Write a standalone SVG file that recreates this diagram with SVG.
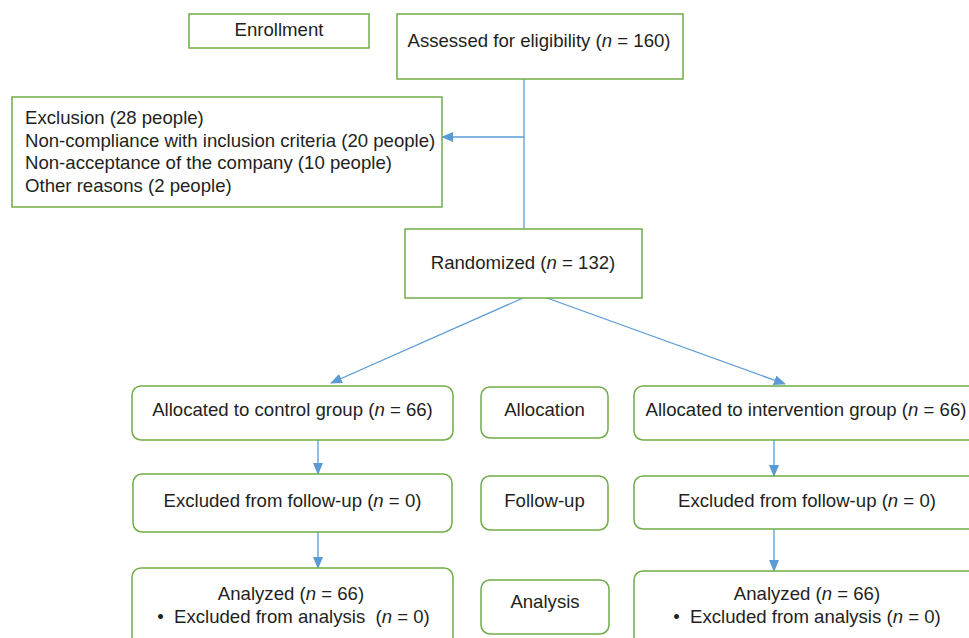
<svg xmlns="http://www.w3.org/2000/svg" width="969" height="638" viewBox="0 0 969 638">
<defs>
<style>
.box{fill:#ffffff;stroke:#70ad47;stroke-width:1.5}
.t{font-family:"Liberation Sans",Arial,sans-serif;font-size:18.6px;fill:#231f20}
.c{text-anchor:middle}
.ln{stroke:#5b9bd5;stroke-width:1.3;fill:none}
</style>
<marker id="ah" markerWidth="12" markerHeight="10" refX="11" refY="5" orient="auto" markerUnits="userSpaceOnUse">
<path d="M0,0 L12,5 L0,10 Z" fill="#5b9bd5"/>
</marker>
</defs>
<rect width="969" height="638" fill="#ffffff"/>
<g id="connectors">
<line class="ln" x1="524" y1="79" x2="524" y2="229"/>
<line class="ln" x1="524" y1="137" x2="442" y2="137" marker-end="url(#ah)"/>
<line class="ln" x1="523" y1="298" x2="331" y2="383" marker-end="url(#ah)"/>
<line class="ln" x1="547" y1="298" x2="785" y2="384" marker-end="url(#ah)"/>
<line class="ln" x1="318" y1="440" x2="318" y2="474" marker-end="url(#ah)"/>
<line class="ln" x1="318" y1="532" x2="318" y2="568" marker-end="url(#ah)"/>
<line class="ln" x1="774" y1="440" x2="774" y2="476" marker-end="url(#ah)"/>
<line class="ln" x1="774" y1="529" x2="774" y2="571" marker-end="url(#ah)"/>
</g>
<g id="enrollment">
<rect class="box" x="189" y="14" width="180" height="34"/>
<text class="t c" x="279" y="36">Enrollment</text>
</g>
<g id="assessed">
<rect class="box" x="397" y="14" width="286" height="65"/>
<text class="t c" x="539" y="47">Assessed for eligibility (<tspan font-style="italic">n</tspan> = 160)</text>
</g>
<g id="exclusion">
<rect class="box" x="12" y="97" width="430" height="110"/>
<text class="t" x="25" y="124">Exclusion (28 people)</text>
<text class="t" x="25" y="147">Non-compliance with inclusion criteria (20 people)</text>
<text class="t" x="25" y="169">Non-acceptance of the company (10 people)</text>
<text class="t" x="25" y="192">Other reasons (2 people)</text>
</g>
<g id="randomized">
<rect class="box" x="405" y="229" width="237" height="69"/>
<text class="t c" x="523" y="269">Randomized (<tspan font-style="italic">n</tspan> = 132)</text>
</g>
<g id="alloc-control">
<rect class="box" x="132" y="386" width="321" height="54" rx="9"/>
<text class="t c" x="292.5" y="416">Allocated to control group (<tspan font-style="italic">n</tspan> = 66)</text>
</g>
<g id="allocation">
<rect class="box" x="481" y="387" width="127" height="51" rx="9"/>
<text class="t c" x="544.5" y="416">Allocation</text>
</g>
<g id="alloc-intervention">
<rect class="box" x="634" y="386" width="344" height="54" rx="9"/>
<text class="t c" x="806" y="416">Allocated to intervention group (<tspan font-style="italic">n</tspan> = 66)</text>
</g>
<g id="followup-control">
<rect class="box" x="133" y="474" width="319" height="58" rx="9"/>
<text class="t c" x="292.5" y="507">Excluded from follow-up (<tspan font-style="italic">n</tspan> = 0)</text>
</g>
<g id="followup">
<rect class="box" x="481" y="476" width="127" height="54" rx="9"/>
<text class="t c" x="544.5" y="507">Follow-up</text>
</g>
<g id="followup-intervention">
<rect class="box" x="634" y="476" width="344" height="53" rx="9"/>
<text class="t c" x="807" y="507">Excluded from follow-up (<tspan font-style="italic">n</tspan> = 0)</text>
</g>
<g id="analyzed-control">
<rect class="box" x="132" y="568" width="321" height="80" rx="9"/>
<text class="t c" x="291" y="600">Analyzed (<tspan font-style="italic">n</tspan> = 66)</text>
<text class="t c" x="293.5" y="623" xml:space="preserve">•  Excluded from analysis  (<tspan font-style="italic">n</tspan> = 0)</text>
</g>
<g id="analysis">
<rect class="box" x="481" y="580" width="128" height="54" rx="9"/>
<text class="t c" x="545" y="608">Analysis</text>
</g>
<g id="analyzed-intervention">
<rect class="box" x="634" y="571" width="344" height="80" rx="9"/>
<text class="t c" x="807" y="600">Analyzed (<tspan font-style="italic">n</tspan> = 66)</text>
<text class="t c" x="807" y="623" xml:space="preserve">•  Excluded from analysis (<tspan font-style="italic">n</tspan> = 0)</text>
</g>
</svg>
